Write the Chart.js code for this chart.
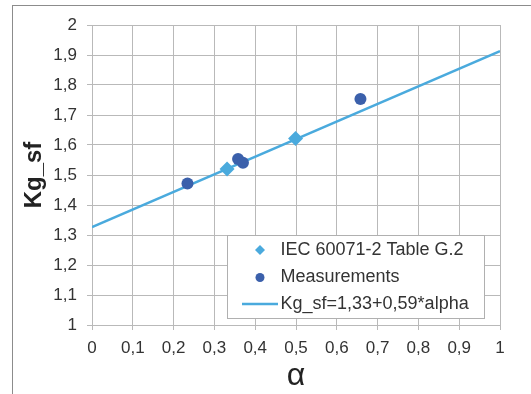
<!DOCTYPE html>
<html>
<head>
<meta charset="utf-8">
<script src="https://cdn.jsdelivr.net/npm/chart.js@4/dist/chart.umd.min.js"></script>
<style>
  html, body { margin: 0; padding: 0; background: #fff; }
  #wrap { position: relative; width: 531px; height: 394px; overflow: hidden; }
  #frame { position: absolute; left: 12px; top: 5px; width: 600px; height: 500px;
           border-left: 1px solid #8c8c8c; border-top: 1px solid #8c8c8c; pointer-events: none; }
</style>
</head>
<body>
<div id="wrap">
  <canvas id="myChart" width="531" height="394"></canvas>
  <div id="frame"></div>
</div>
<script>
// values
const iecAlpha = [0.331, 0.499];
const iecKg = [1.52, 1.622];
const measAlpha = [0.234, 0.358, 0.37, 0.658];
const measKg = [1.472, 1.553, 1.541, 1.753];
const fitAlpha = [0, 1];
const fitKg = [1.326, 1.913];

const seriesLabels = ['IEC 60071-2 Table G.2', 'Measurements', 'Kg_sf=1,33+0,59*alpha'];
const xTickLabels = ['0', '0,1', '0,2', '0,3', '0,4', '0,5', '0,6', '0,7', '0,8', '0,9', '1'];
const yTickLabels = ['1', '1,1', '1,2', '1,3', '1,4', '1,5', '1,6', '1,7', '1,8', '1,9', '2'];
const xTitle = 'α';
const yTitle = 'Kg_sf';

const toPoints = (xs, ys) => xs.map((x, i) => ({ x: x, y: ys[i] }));

const FONT = '"Liberation Sans", Arial, sans-serif';
const gridColor = '#b9b9b9';
const textColor = '#333333';

// Excel style legend box sitting inside the plot area
const boxLegend = {
    id: 'boxLegend',
    afterDraw(chart) {
        const { ctx, chartArea } = chart;
        const w = 257, h = 83;
        const left = Math.round(chartArea.right - 16 - w);
        const top = Math.round(chartArea.bottom - 7 - h);
        const rows = [15, 42.5, 69];
        ctx.save();
        ctx.fillStyle = '#ffffff';
        ctx.fillRect(left, top, w, h);
        ctx.strokeStyle = '#b0b0b0';
        ctx.lineWidth = 1;
        ctx.strokeRect(left + 0.5, top + 0.5, w, h);
        ctx.font = '18px ' + FONT;
        ctx.textBaseline = 'middle';
        ctx.textAlign = 'left';
        chart.data.datasets.forEach((ds, i) => {
            const y = top + rows[i];
            if (ds.showLine) {
                ctx.strokeStyle = ds.borderColor;
                ctx.lineWidth = ds.borderWidth;
                ctx.beginPath();
                ctx.moveTo(left + 15, y);
                ctx.lineTo(left + 51, y);
                ctx.stroke();
            } else {
                ctx.fillStyle = ds.backgroundColor;
                const r = ds.pointStyle === 'rectRot' ? 5 : 4.5;
                if (Chart.helpers && Chart.helpers.drawPoint) {
                    Chart.helpers.drawPoint(ctx, { pointStyle: ds.pointStyle, radius: r, rotation: 0, borderWidth: 0 }, left + 33, y);
                } else {
                    ctx.beginPath();
                    ctx.arc(left + 33, y, r, 0, Math.PI * 2);
                    ctx.fill();
                }
            }
            ctx.fillStyle = textColor;
            ctx.fillText(ds.label, left + 53.5, y);
        });
        ctx.restore();
    }
};

const ctx = document.getElementById('myChart');
const myChart = new Chart(ctx, {
    type: 'scatter',
    data: {
        datasets: [{
            label: seriesLabels[0],
            data: toPoints(iecAlpha, iecKg),
            pointStyle: 'rectRot',
            pointRadius: 7.5,
            pointBorderWidth: 0,
            backgroundColor: '#4aaadd',
            borderColor: '#4aaadd'
        },
        {
            label: seriesLabels[1],
            data: toPoints(measAlpha, measKg),
            pointStyle: 'circle',
            pointRadius: 6,
            pointBorderWidth: 0,
            backgroundColor: '#3b60ab',
            borderColor: '#3b60ab'
        },
        {
            label: seriesLabels[2],
            data: toPoints(fitAlpha, fitKg),
            showLine: true,
            pointRadius: 0,
            borderWidth: 2.5,
            borderColor: '#4aaadd',
            backgroundColor: '#4aaadd'
        }]
    },
    options: {
        responsive: false,
        animation: false,
        devicePixelRatio: 1,
        layout: { padding: { top: 25, right: 31, left: 0, bottom: 0 } },
        plugins: {
            legend: { display: false },
            tooltip: { enabled: false }
        },
        scales: {
            x: {
                type: 'linear',
                min: 0,
                max: 1,
                afterFit: s => { s.height = 69; },
                ticks: {
                    stepSize: 0.1,
                    autoSkip: false,
                    maxRotation: 0,
                    padding: 8,
                    color: textColor,
                    font: { family: FONT, size: 17 },
                    callback: (v, i) => xTickLabels[i]
                },
                grid: { color: gridColor, lineWidth: 1, tickLength: 5 },
                border: { color: gridColor, width: 1 },
                title: {
                    display: true,
                    text: xTitle,
                    color: '#222222',
                    font: { family: FONT, size: 32, lineHeight: 1 },
                    padding: { top: 0, bottom: 2 }
                }
            },
            y: {
                type: 'linear',
                min: 1,
                max: 2,
                afterFit: s => { s.width = 92; },
                ticks: {
                    stepSize: 0.1,
                    autoSkip: false,
                    padding: 10,
                    color: textColor,
                    font: { family: FONT, size: 17 },
                    callback: (v, i) => yTickLabels[i]
                },
                grid: { color: gridColor, lineWidth: 1, tickLength: 5 },
                border: { color: gridColor, width: 1 },
                title: {
                    display: true,
                    text: yTitle,
                    color: '#222222',
                    font: { family: FONT, size: 24, weight: 'bold', lineHeight: 1.2 },
                    padding: { top: 20, bottom: 0 }
                }
            }
        }
    },
    plugins: [boxLegend]
});
</script>
</body>
</html>
